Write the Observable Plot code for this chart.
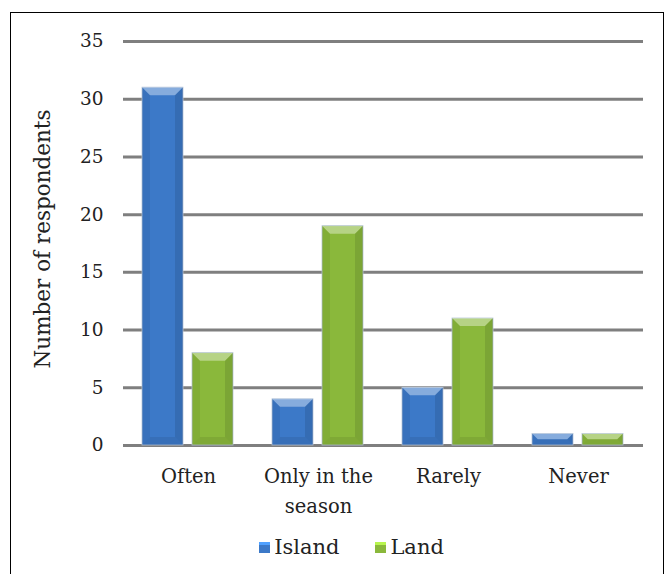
<!DOCTYPE html>
<html>
<head>
<meta charset="utf-8">
<script src="https://cdn.jsdelivr.net/npm/d3@7"></script>
<script src="https://cdn.jsdelivr.net/npm/@observablehq/plot@0.6"></script>
<style>
  html, body { margin: 0; padding: 0; background: #fff; width: 667px; height: 574px; overflow: hidden; }
  #frame { position: absolute; left: 10px; top: 12px; width: 654px; height: 600px; border: 1px solid #000; box-sizing: border-box; }
  #chart { position: absolute; left: 0; top: 0; }
  #ylabel { position: absolute; left: 42px; top: 239px; transform: translate(-50%, -50%) rotate(-90deg); font-family: "DejaVu Serif", serif; font-size: 21.5px; color: #222; white-space: nowrap; }
  #legend { position: absolute; top: 535px; left: 0; width: 667px; text-align: center; font-family: "DejaVu Serif", serif; font-size: 21px; color: #222; padding-left: 36px; box-sizing: border-box; }
  .item { display: inline-block; margin: 0 18px; }
  .sw { display: inline-block; width: 11px; height: 11px; margin-right: 4px; vertical-align: 1px; box-sizing: border-box; }
</style>
</head>
<body>
<div id="frame"></div>
<div id="chart"></div>
<div id="ylabel">Number of respondents</div>
<div id="legend"></div>
<script>
const categories = ["Often", "Only in the season", "Rarely", "Never"];
const categoryLabels = ["Often", "Only in the\nseason", "Rarely", "Never"];
const series = ["Island", "Land"];
const islandValues = [31, 4, 5, 1];
const landValues = [8, 19, 11, 1];
const yTicks = [0, 5, 10, 15, 20, 25, 30, 35];
const colors = ["#3c79c8", "#8ab83b"];

const data = [];
categories.forEach((c, i) => {
  data.push({category: c, series: "Island", value: islandValues[i]});
  data.push({category: c, series: "Land", value: landValues[i]});
});

function bevel(index, scales, values, dimensions, context, next) {
  const g = next(index, scales, values, dimensions, context);
  const ns = "http://www.w3.org/2000/svg";
  for (const r of Array.from(g.querySelectorAll("rect"))) {
    const x = +r.getAttribute("x"), y = +r.getAttribute("y");
    const w = +r.getAttribute("width"), h = +r.getAttribute("height");
    const b = Math.min(8, h / 2, w / 2);
    const parent = r.parentNode;
    const add = (pts, fill, op) => {
      const p = document.createElementNS(ns, "polygon");
      p.setAttribute("points", pts.map(q => q.join(",")).join(" "));
      p.setAttribute("fill", fill);
      p.setAttribute("fill-opacity", op);
      p.setAttribute("stroke", "none");
      parent.insertBefore(p, r.nextSibling);
    };
    add([[x, y], [x + b, y + b], [x + b, y + h - b], [x, y + h]], "#000", 0.06);
    add([[x + w, y], [x + w - b, y + b], [x + w - b, y + h - b], [x + w, y + h]], "#000", 0.1);
    add([[x, y + h], [x + b, y + h - b], [x + w - b, y + h - b], [x + w, y + h]], "#000", 0.08);
    add([[x, y], [x + w, y], [x + w - b, y + b], [x + b, y + b]], "#fff", 0.38);
  }
  return g;
}

const plot = Plot.plot({
  width: 667,
  height: 535,
  marginLeft: 123,
  marginRight: 24,
  marginTop: 41,
  marginBottom: 90,
  style: {fontFamily: "DejaVu Serif, serif", fontSize: "18px", color: "#222", background: "transparent"},
  fx: {domain: categories, padding: 0, label: null},
  x: {domain: series, paddingInner: 0.178, paddingOuter: 0.376, axis: null},
  y: {domain: [0, 35], label: null},
  color: {domain: series, range: colors},
  marks: [
    Plot.ruleY(yTicks, {stroke: "#7f7f7f", strokeWidth: 3}),
    Plot.barY(data, {fx: "category", x: "series", y: "value", fill: "series", stroke: "#b4c4d8", strokeWidth: 0.8, render: bevel}),
    Plot.axisY({ticks: yTicks, tickSize: 0, tickPadding: 20, label: null, fontSize: 18.5}),
    Plot.axisFx({anchor: "bottom", tickSize: 0, tickPadding: 16, label: null, fontSize: 19.5,
      tickFormat: d => categoryLabels[categories.indexOf(d)], lineHeight: 1.55})
  ]
});
document.getElementById("chart").appendChild(plot);

const legend = document.getElementById("legend");
series.forEach((s, i) => {
  const item = document.createElement("span");
  item.className = "item";
  const sw = document.createElement("span");
  sw.className = "sw";
  sw.style.background = colors[i];
  sw.style.borderTop = "3px solid " + d3.color(colors[i]).brighter(0.8);
  item.appendChild(sw);
  item.appendChild(document.createTextNode(s));
  legend.appendChild(item);
});
</script>
</body>
</html>
